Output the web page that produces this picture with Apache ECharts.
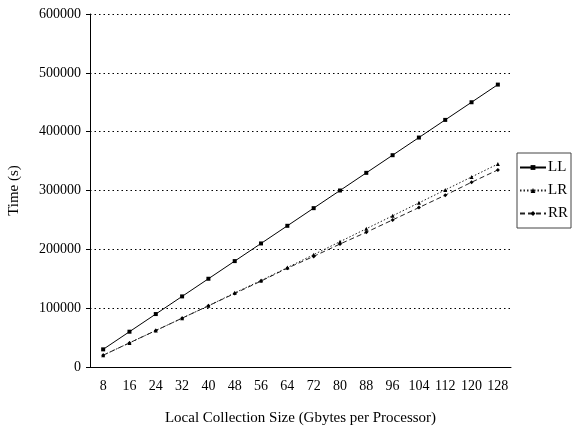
<!DOCTYPE html>
<html>
<head>
<meta charset="utf-8">
<script src="https://cdn.jsdelivr.net/npm/echarts@6/dist/echarts.min.js"></script>
<style>html,body{margin:0;padding:0;background:#fff}#c{width:572px;height:429px}</style>
</head>
<body>
<div id="c"></div>
<script>
const categories = ['8','16','24','32','40','48','56','64','72','80','88','96','104','112','120','128'];
const LL = [30000,60000,90000,120000,150000,180000,210000,240000,270000,300000,330000,360000,390000,420000,450000,480000];
const LR = [20000,41000,62000,83000,104000,126000,147000,169000,191000,213000,235000,257000,279000,301000,323000,345000];
const RR = [20000,41000,62000,83000,104000,125000,146000,168000,188000,209000,229000,250000,271000,292000,314000,335000];
const yTicks = [0,100000,200000,300000,400000,500000,600000];

const font = 'Liberation Serif';
const chart = echarts.init(document.getElementById('c'));
chart.setOption({
  animation: false,
  backgroundColor: '#fff',
  textStyle: {fontFamily: font},
  grid: {left: 90, right: 61, top: 14, bottom: 62, containLabel: false, outerBoundsMode: 'none'},
  legend: {
    orient: 'vertical', left: 517, top: 153,
    data: ['LL','LR','RR'],
    itemWidth: 26, itemHeight: 6, itemGap: 6,
    padding: [6, 3, 6, 2],
    borderColor: '#444', borderWidth: 1,
    textStyle: {fontFamily: font, fontSize: 15, color: '#000', padding: [0,0,0,-3], lineHeight: 17}
  },
  xAxis: {
    type: 'category', data: categories, boundaryGap: true,
    name: 'Local Collection Size (Gbytes per Processor)',
    nameLocation: 'middle', nameGap: 44,
    nameTextStyle: {fontFamily: font, fontSize: 15, color: '#000'},
    axisLine: {lineStyle: {color: '#000', width: 1}},
    axisTick: {length: 5, lineStyle: {color: '#000'}},
    axisLabel: {fontFamily: font, fontSize: 14, color: '#000', margin: 12, interval: 0}
  },
  yAxis: {
    type: 'value', min: yTicks[0], max: yTicks[yTicks.length-1], interval: 100000,
    name: 'Time (s)', nameLocation: 'middle', nameGap: 68,
    nameTextStyle: {fontFamily: font, fontSize: 15, color: '#000'},
    axisLine: {show: true, lineStyle: {color: '#000', width: 1}},
    axisTick: {show: true, length: 4, lineStyle: {color: '#000'}},
    axisLabel: {fontFamily: font, fontSize: 14, color: '#000', margin: 9, formatter: v => String(v)},
    splitLine: {show: true, lineStyle: {color: '#000', type: [1.5, 3], width: 1}}
  },
  series: [
    {name: 'LL', type: 'line', data: LL, symbol: 'rect', symbolSize: 4,
     itemStyle: {color: '#000'}, lineStyle: {color: '#000', width: 1}},
    {name: 'LR', type: 'line', data: LR, symbol: 'triangle', symbolSize: 4,
     itemStyle: {color: '#000'}, lineStyle: {color: '#222', width: 1, type: [1.5, 2]}},
    {name: 'RR', type: 'line', data: RR, symbol: 'diamond', symbolSize: 4,
     itemStyle: {color: '#000'}, lineStyle: {color: '#222', width: 1, type: [5, 3]}}
  ]
});
</script>
</body>
</html>
